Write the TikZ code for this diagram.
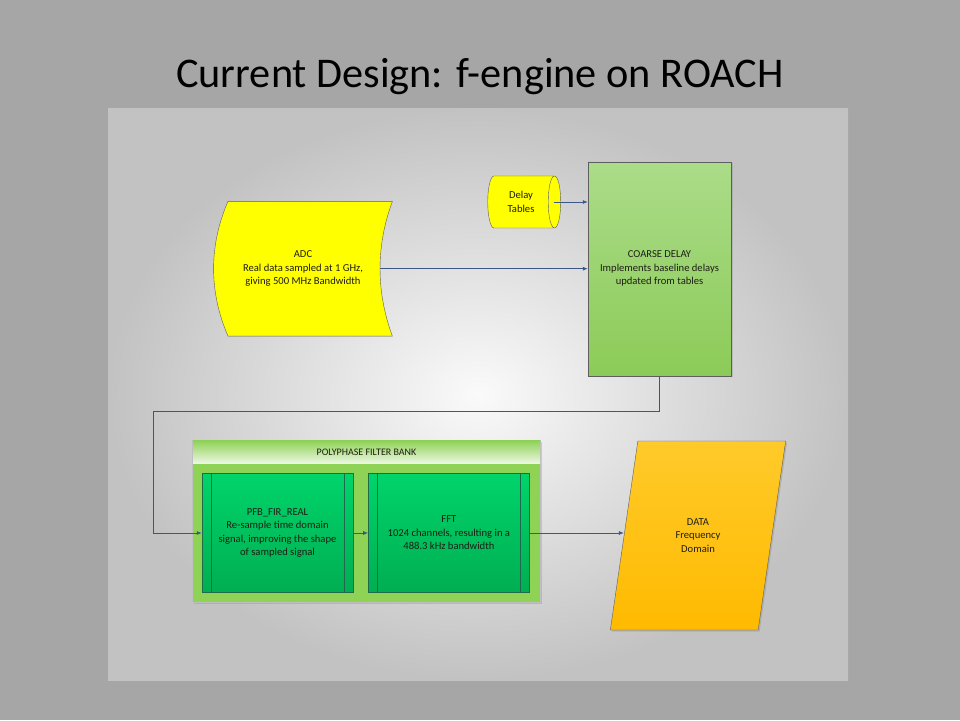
\documentclass[tikz,border=0pt]{standalone}
\usepackage{fontspec}
\setmainfont{Carlito}
\usepackage{tikz}
\usetikzlibrary{
  positioning,
  calc,
  arrows.meta,
  shapes.geometric,
  shadows
}
\definecolor{slide}{HTML}{A6A6A6}
\definecolor{panelout}{HTML}{C2C2C2}
\definecolor{panelin}{HTML}{FAFAFA}
\definecolor{linkblue}{HTML}{3B5787}
\definecolor{adcyellow}{HTML}{FFFF00}
\definecolor{coarsetop}{HTML}{ABDC89}
\definecolor{coarsebot}{HTML}{8CCB58}
\definecolor{bankgreen}{HTML}{8ED256}
\definecolor{bankhead}{HTML}{E6F4D8}
\definecolor{stagetop}{HTML}{00D46A}
\definecolor{stagebot}{HTML}{00AE52}
\definecolor{stageline}{HTML}{1E6B4C}
\definecolor{datatop}{HTML}{FFCA2A}
\definecolor{databot}{HTML}{FFBA00}
\definecolor{edge}{HTML}{5E5E5E}
\definecolor{ink}{HTML}{1E1E14}

\begin{document}
\begin{tikzpicture}[
      x=1pt, y=-1pt,
      every node/.style={font=\fontsize{10.6}{13.4}\selectfont, text=ink, align=center, inner sep=0pt},
      softshadow/.style={drop shadow={shadow xshift=1.5pt, shadow yshift=-1.5pt, opacity=0.3}},
      tapenode/.style={minimum width=180pt, minimum height=136pt,
        path picture={
          \coordinate (nw) at (path picture bounding box.north west);
          \coordinate (ne) at (path picture bounding box.north east);
          \coordinate (sw) at (path picture bounding box.south west);
          \coordinate (se) at (path picture bounding box.south east);
          \draw[fill=adcyellow, draw=edge]
            ($(nw)+(15,0.6)$) -- ($(ne)+(-0.6,0.6)$)
            .. controls ($(ne)+(-17.1,45)$) and ($(se)+(-17.1,-45)$) .. ($(se)+(-0.6,-0.6)$)
            -- ($(sw)+(15,-0.6)$)
            .. controls ($(sw)+(-4.2,-45)$) and ($(nw)+(-4.2,45)$) .. ($(nw)+(15,0.6)$) -- cycle;
        }},
      tablenode/.style={cylinder, shape border rotate=0, aspect=0.6, draw=edge,
        cylinder uses custom fill, cylinder body fill=adcyellow, cylinder end fill=adcyellow,
        minimum width=52pt, minimum height=73pt},
      process/.style={rectangle, draw=edge, top color=coarsetop, bottom color=coarsebot,
        minimum width=143pt, minimum height=214pt, softshadow},
      bank/.style={rectangle, draw=black!25, fill=bankgreen, minimum width=348pt, minimum height=162pt, softshadow},
      bankhead/.style={rectangle, top color=bankgreen, middle color=bankhead, bottom color=bankhead!70!white,
        minimum width=347pt, minimum height=23pt, font=\fontsize{10}{12}\selectfont},
      stage/.style={rectangle, draw=stageline, top color=stagetop, bottom color=stagebot,
        minimum height=119pt,
        path picture={
          \draw[stageline] ($(path picture bounding box.north west)+(9,0)$) -- ($(path picture bounding box.south west)+(9,0)$);
          \draw[stageline] ($(path picture bounding box.north east)+(-9,0)$) -- ($(path picture bounding box.south east)+(-9,0)$);
        }},
      dataio/.style={trapezium, trapezium left angle=73, trapezium right angle=107, trapezium stretches=true,
        draw=edge, top color=datatop, bottom color=databot, minimum width=176pt, minimum height=189pt, softshadow},
      arrow/.style={-{Latex[length=5pt, width=4pt]}, draw=linkblue, line width=0.8pt}
    ]
      \useasboundingbox (0,0) rectangle (960,720);
      \fill[slide] (0,0) rectangle (960,720);
      \shade[inner color=panelin, outer color=panelout] (108,108) rectangle (848,680);

      % Title
      \node[font=\fontsize{42.3}{50}\selectfont, text=black, anchor=base] (title) at (480,87) {Current Design: f-engine on ROACH};

      % Nodes
      \node[tapenode] (adc) at (303,268.7) {ADC\\Real data sampled at 1 GHz,\\giving 500 MHz Bandwidth};
      \node[tablenode] (tables) at (521,202) {Delay\\Tables};
      \node[process] (coarse) at (659.5,268.7) {COARSE DELAY\\Implements baseline delays\\updated from tables};
      \node[bank] (pfbank) at (366.5,521.5) {};
      \node[bankhead, anchor=north] (pfbhead) at (pfbank.north) {POLYPHASE FILTER BANK};
      \node[stage, minimum width=151pt] (fir) at (277.5,533) {PFB\_FIR\_REAL\\Re-sample time domain\\signal, improving the shape\\of sampled signal};
      \node[stage, minimum width=161pt, right=15pt of fir] (fft) {FFT\\1024 channels, resulting in a\\488.3 kHz bandwidth};
      \node[dataio] (data) at (698,535.5) {DATA\\Frequency\\Domain};
      \coordinate (bend) at (153.5,411);

      % Arrows
      \draw[arrow] ($(tables.east)+(-7,0)$) -- (tables.east -| coarse.west);
      \draw[arrow] ($(adc.east)+(-13,0)$) -- (adc.east -| coarse.west);
      \draw[arrow] (coarse.south) |- (bend) |- (fir.west);
      \draw[arrow] (fir) -- (fft);
      \draw[arrow] (fft.east) -- (fft.east -| data.west);
    \end{tikzpicture}
\end{document}
